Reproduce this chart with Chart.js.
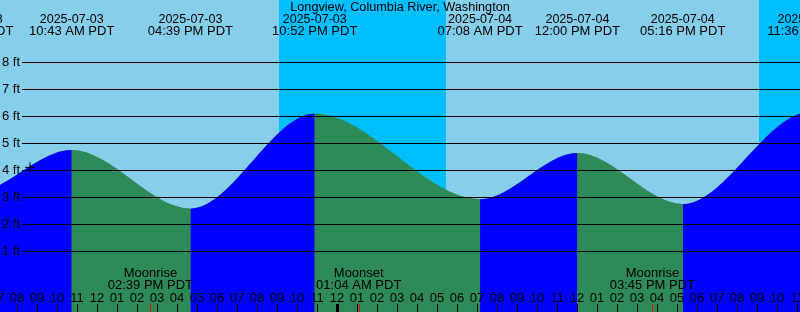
<!DOCTYPE html>
<html>
<head>
<meta charset="utf-8">
<script src="https://cdn.jsdelivr.net/npm/chart.js@4/dist/chart.umd.min.js"></script>
<style>
  body { margin: 0; background: #87ceeb; }
  canvas { display: block; }
</style>
</head>
<body>
<canvas id="tideChart" width="800" height="312"></canvas>
<script>
/* Tide chart - Longview, Columbia River */

const stationName = 'Longview, Columbia River, Washington';

// tide extremes (day offset from 2025-07-03, clock time, feet)
const tideDates = ['2025-07-02', '2025-07-03', '2025-07-03', '2025-07-03', '2025-07-03', '2025-07-04', '2025-07-04', '2025-07-04', '2025-07-04', '2025-07-05'];
const tideDays  = [-1, 0, 0, 0, 0, 1, 1, 1, 1, 2];
const tideTimes = ['11:40 PM', '05:40 AM', '10:43 AM', '04:39 PM', '10:52 PM', '07:08 AM', '12:00 PM', '05:16 PM', '11:36 PM', '05:50 AM'];
const tideFeet  = [5.9, 3.13, 4.75, 2.58, 6.09, 2.93, 4.64, 2.75, 6.15, 2.9];

// moon events
const moonNames = ['Moonrise', 'Moonset', 'Moonrise'];
const moonDays  = [0, 1, 1];
const moonTimes = ['02:39 PM', '01:04 AM', '03:45 PM'];

// night (sunset -> sunrise), hours from midnight 2025-07-03
const nightStart = [21.08, 45.08];
const nightEnd   = [29.43, 53.4];

// current time marker
const nowHour = 8.63;
const nowFeet = 4.11;

const feetTicks = [1, 2, 3, 4, 5, 6, 7, 8];

const xMin = 7.13, xMax = 47.13;
const yMin = -1.248, yMax = 10.307;

const FONT = '"Liberation Sans", Arial, sans-serif';

function toHours(day, t){
  const [hm, ap] = t.split(' ');
  let [h, m] = hm.split(':').map(Number);
  if(ap == 'PM' && h != 12) h += 12;
  if(ap == 'AM' && h == 12) h = 0;
  return day*24 + h + m/60;
}

const tidePoints = tideTimes.map((t, i) => ({x: toHours(tideDays[i], t), y: tideFeet[i]}));

const RISE = '#0000ff';
const FALL = '#2e8b57';

const backgroundPlugin = {
  id: 'dayNight',
  beforeDraw(chart){
    const c = chart.ctx;
    const xs = chart.scales.x;
    c.save();
    c.fillStyle = '#87ceeb';
    c.fillRect(0, 0, chart.width, chart.height);
    c.fillStyle = '#00bfff';
    for(let i = 0; i < nightStart.length; i++){
      const a = xs.getPixelForValue(nightStart[i]);
      const b = xs.getPixelForValue(nightEnd[i]);
      c.fillRect(Math.round(a), 0, Math.round(b) - Math.round(a), chart.height);
    }
    c.restore();
  }
};

const overlayPlugin = {
  id: 'overlay',
  afterDatasetsDraw(chart){
    const c = chart.ctx;
    const xs = chart.scales.x, ys = chart.scales.y;
    c.save();

    // feet grid + labels
    c.strokeStyle = '#000';
    c.lineWidth = 1;
    c.fillStyle = '#000';
    c.font = '13px ' + FONT;
    c.textBaseline = 'middle';
    c.textAlign = 'left';
    feetTicks.forEach(v => {
      const y = Math.round(ys.getPixelForValue(v)) + 0.5;
      c.beginPath();
      c.moveTo(22, y);
      c.lineTo(chart.width, y);
      c.stroke();
      c.fillText(v + ' ft', 2, y);
    });

    // title
    c.textAlign = 'center';
    c.font = '12.7px ' + FONT;
    c.fillText(stationName, 400, 7.5);

    // tide labels
    tidePoints.forEach((p, i) => {
      const x = xs.getPixelForValue(p.x);
      c.font = '12.5px ' + FONT;
      c.fillText(tideDates[i], x, 19.5);
      c.font = '13px ' + FONT;
      c.fillText(tideTimes[i] + ' PDT', x, 31.5);
    });

    // hour ticks
    c.font = '13px ' + FONT;
    for(let h = Math.floor(xMin); h <= Math.ceil(xMax); h++){
      const x = Math.round(xs.getPixelForValue(h));
      const hr = (h % 12) || 12;
      c.fillText(String(hr).padStart(2, '0'), x, 298);
      c.fillStyle = '#000';
      if(h % 24 == 0){
        c.fillRect(x - 1, 304, 3, 8);
      } else {
        c.fillRect(x, 304, 1, 8);
      }
    }

    // moon events
    moonTimes.forEach((t, i) => {
      const h = toHours(moonDays[i], t);
      const x = xs.getPixelForValue(h);
      c.fillStyle = '#000';
      c.fillText(moonNames[i], x, 273.5);
      c.fillText(t + ' PDT', x, 285.5);
      c.fillStyle = '#ff0000';
      c.fillRect(Math.round(x), 304, 1, 8);
    });

    c.restore();
  }
};

const ctx = document.getElementById('tideChart');

const tideChart = new Chart(ctx, {
  type: 'line',
  data: {
    datasets: [{
      label: 'now',
      data: [{x: nowHour, y: nowFeet}],
      showLine: false,
      pointStyle: 'cross',
      pointRadius: 5,
      borderColor: '#000',
      borderWidth: 1
    }, {
      label: 'tide',
      data: tidePoints,
      cubicInterpolationMode: 'monotone',
      fill: 'start',
      borderWidth: 0,
      borderColor: 'rgba(0,0,0,0)',
      pointRadius: 0,
      backgroundColor: RISE,
      segment: {
        backgroundColor: s => s.p1.parsed.y > s.p0.parsed.y ? RISE : FALL
      }
    }, {
      // plain underlay so segment seams do not show the sky through
      label: 'tide base',
      data: tidePoints,
      cubicInterpolationMode: 'monotone',
      fill: 'start',
      borderWidth: 0,
      borderColor: 'rgba(0,0,0,0)',
      pointRadius: 0,
      backgroundColor: FALL
    }]
  },
  options: {
    responsive: false,
    animation: false,
    layout: { padding: 0, autoPadding: false },
    plugins: {
      legend: { display: false },
      title: { display: false },
      tooltip: { enabled: false }
    },
    scales: {
      x: { type: 'linear', min: xMin, max: xMax, display: false },
      y: { min: yMin, max: yMax, display: false }
    }
  },
  plugins: [backgroundPlugin, overlayPlugin]
});
</script>
</body>
</html>
